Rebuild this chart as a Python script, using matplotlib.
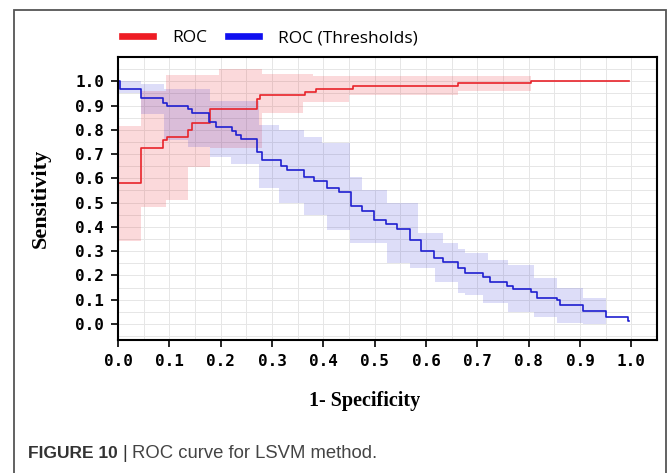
import matplotlib
matplotlib.use("Agg")
import matplotlib.pyplot as plt
from matplotlib.lines import Line2D
from matplotlib.patches import Rectangle
from matplotlib.ticker import MultipleLocator
import numpy as np

# ROC curve (red) - step points
roc_x = [0.0, 0.0, 0.045, 0.088, 0.095, 0.137, 0.145, 0.18, 0.27, 0.276,
         0.365, 0.386, 0.457, 0.663, 0.804, 0.996]
roc_y = [0.0, 0.58, 0.724, 0.757, 0.77, 0.80, 0.83, 0.885, 0.925, 0.945,
         0.956, 0.967, 0.98, 0.993, 1.0, 1.0]

# ROC band
roc_band_x = [0.0, 0.045, 0.094, 0.137, 0.18, 0.196, 0.28, 0.36, 0.38, 0.45, 0.663, 0.804]
roc_band_lo = [0.34, 0.483, 0.51, 0.647, 0.724, 0.724, 0.868, 0.915, 0.915, 0.942, 0.96, 0.96]
roc_band_hi = [0.815, 0.96, 1.025, 1.025, 1.025, 1.05, 1.03, 1.03, 1.02, 1.02, 1.02, 1.02]

# ROC (Thresholds) curve (blue)
thr_x = [0.0, 0.003, 0.045, 0.088, 0.095, 0.136, 0.145, 0.177, 0.19, 0.222,
         0.23, 0.24, 0.27, 0.28, 0.317, 0.33, 0.363, 0.382, 0.408, 0.431,
         0.454, 0.476, 0.498, 0.522, 0.543, 0.569, 0.59, 0.616, 0.633, 0.663,
         0.676, 0.712, 0.724, 0.758, 0.77, 0.804, 0.816, 0.856, 0.861, 0.905,
         0.951, 0.993, 0.996]
thr_y = [1.0, 0.97, 0.93, 0.912, 0.9, 0.885, 0.87, 0.833, 0.813, 0.794,
         0.778, 0.764, 0.709, 0.675, 0.65, 0.634, 0.606, 0.59, 0.562, 0.542,
         0.487, 0.466, 0.428, 0.41, 0.391, 0.348, 0.30, 0.27, 0.254, 0.229,
         0.21, 0.195, 0.174, 0.158, 0.143, 0.133, 0.108, 0.099, 0.078, 0.053,
         0.028, 0.014, 0.014]

# ROC (Thresholds) band
thr_band_x = [0.0, 0.045, 0.09, 0.137, 0.18, 0.22, 0.275, 0.314, 0.363, 0.398,
              0.408, 0.451, 0.475, 0.524, 0.569, 0.584, 0.618, 0.633, 0.663, 0.676,
              0.712, 0.72, 0.76, 0.81, 0.855, 0.905, 0.951]
thr_band_hi = [1.0, 0.99, 0.97, 0.97, 0.92, 0.92, 0.82, 0.80, 0.77, 0.745,
               0.745, 0.607, 0.551, 0.497, 0.497, 0.373, 0.373, 0.332, 0.31, 0.292,
               0.292, 0.263, 0.243, 0.189, 0.148, 0.107, 0.107]
thr_band_lo = [0.95, 0.867, 0.76, 0.73, 0.69, 0.66, 0.56, 0.498, 0.448, 0.448,
               0.387, 0.333, 0.333, 0.25, 0.23, 0.23, 0.174, 0.174, 0.127, 0.12,
               0.086, 0.086, 0.05, 0.03, 0.003, 0.0, 0.0]

ticks = [0.0, 0.1, 0.2, 0.3, 0.4, 0.5, 0.6, 0.7, 0.8, 0.9, 1.0]

red = "#e8232a"
blue = "#1f1fd0"

fig = plt.figure(figsize=(6.72, 4.73), dpi=100)
ax = fig.add_axes([118 / 672, 1 - 340 / 473, (657 - 118) / 672, (340 - 57) / 473])

# outer frame of the figure panel
fig.patches.append(Rectangle((14 / 672, -0.01), (666 - 14) / 672, 1 - 10 / 473 + 0.01,
                             transform=fig.transFigure, fill=False,
                             edgecolor="#555555", linewidth=1.3))

ax.fill_between(roc_band_x, roc_band_lo, roc_band_hi, step="post",
                color=red, alpha=0.17, linewidth=0)
ax.fill_between(thr_band_x, thr_band_lo, thr_band_hi, step="post",
                color=blue, alpha=0.15, linewidth=0)
ax.step(roc_x, roc_y, where="post", color=red, linewidth=1.2)
ax.step(thr_x, thr_y, where="post", color=blue, linewidth=1.2)

ax.set_xlim(0, 1.05)
ax.set_ylim(-0.066, 1.1)
ax.set_xticks(ticks)
ax.set_yticks(ticks)
ax.set_xticklabels(["%.1f" % t for t in ticks])
ax.set_yticklabels(["%.1f" % t for t in ticks])
ax.xaxis.set_minor_locator(MultipleLocator(0.05))
ax.yaxis.set_minor_locator(MultipleLocator(0.05))
ax.grid(True, which="both", color="#e6e6e6", linewidth=0.7)
ax.set_axisbelow(True)
ax.tick_params(axis="both", which="major", direction="out", length=5, width=1.2, pad=5)
ax.tick_params(axis="both", which="minor", length=0)
for lab in ax.get_xticklabels() + ax.get_yticklabels():
    lab.set_fontfamily("DejaVu Sans Mono")
    lab.set_fontweight("bold")
    lab.set_fontsize(11.5)
for sp in ax.spines.values():
    sp.set_linewidth(1.5)
    sp.set_color("black")

ax.set_xlabel("1- Specificity", family="Liberation Serif", fontweight="bold",
              fontsize=14.5)
ax.xaxis.set_label_coords((365 - 118) / 539, -(391 - 340) / 283)
ax.set_ylabel("Sensitivity", family="Liberation Serif", fontweight="bold",
              fontsize=16)
ax.yaxis.set_label_coords((51 - 118) / 539, 0.5)

handles = [Line2D([], [], color="#ee1c24", linewidth=4.8),
           Line2D([], [], color="#1010f0", linewidth=4.8)]
fig.legend(handles, ["ROC", "ROC (Thresholds)"], loc="center left",
           bbox_to_anchor=(108 / 672, 1 - 38 / 473), ncol=2, frameon=False,
           prop={"family": "Open Sans", "size": 12.5}, handlelength=1.8,
           handletextpad=1.1, columnspacing=1.2, borderpad=0.3)

fig.text(28 / 672, 1 - 453 / 473, "FIGURE 10", family="Liberation Sans",
         fontweight="bold", fontsize=12.5, color="#333333", va="center")
fig.text(122 / 672, 1 - 453 / 473, "|", family="Liberation Sans",
         fontsize=13, color="#333333", va="center")
fig.text(132 / 672, 1 - 453 / 473, "ROC curve for LSVM method.", family="Liberation Sans",
         fontsize=13.3, color="#444444", va="center")

fig.savefig("out.png", dpi=100)
